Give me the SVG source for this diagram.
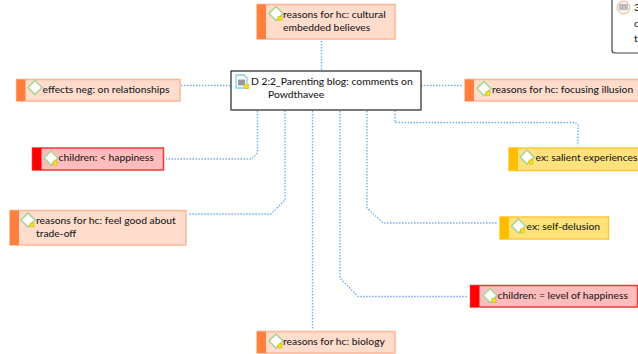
<svg xmlns="http://www.w3.org/2000/svg" width="638" height="354" viewBox="0 0 638 354">
<style>
text{font-family:"Lato","Open Sans","Liberation Sans",sans-serif;font-size:10.3px;fill:#1c1c1c;font-weight:500}
.o{fill:#ffdccc;stroke:#ffb594;stroke-width:1.5}
.ob{fill:#ff7f3f}
.r{fill:#ffbcbc;stroke:#f03a3a;stroke-width:1.5}
.rb{fill:#ff0000}
.y{fill:#ffe27a;stroke:#ffc83c;stroke-width:1.5}
.yb{fill:#ffbf00}
.c{fill:none;stroke:#74acf4;stroke-width:1.4;stroke-dasharray:1.5 1.5}
.d{fill:#fff;stroke:#a8d596;stroke-width:1.6}
.q{fill:#f5e11c;stroke:#c9b400;stroke-width:.5}
</style>
<defs>
<g id="code"><path class="d" d="M8 -.5L15 6.500L8 13.500L1 6.500Z"/><rect class="q" x="10" y="9.500" width="4" height="4"/></g>
<g id="code0"><path class="d" d="M8 -.5L15 6.500L8 13.500L1 6.500Z"/></g>
</defs>
<g id="connectors">
<path class="c" d="M321.500 41V70"/>
<path class="c" d="M181 85.500H230"/>
<path class="c" d="M421 85.500H463"/>
<path class="c" d="M257.500 111V153L251.500 159H166"/>
<path class="c" d="M285 111V200L271 214H188"/>
<path class="c" d="M312.500 111V330"/>
<path class="c" d="M340 111V278L358 296.500H468"/>
<path class="c" d="M367 111V208L383 223H497"/>
<path class="c" d="M395 111V122.500H575L578 125V146"/>
</g>
<g id="node-top"><rect class="o" x="257" y="4.500" width="138" height="34.500"/><rect class="ob" x="257" y="4.500" width="9" height="34.500"/><use href="#code" x="268" y="7"/><text x="283" y="18">reasons for hc: cultural</text><text x="283" y="31">embedded believes</text></g>
<g id="node-center"><rect x="231" y="71" width="190" height="39" fill="#fff" stroke="#222" stroke-width="1.2"/><path d="M231 110H421" stroke="#777" stroke-width="1.500"/><path d="M236 75h8l3 3v10h-11z" fill="#fff" stroke="#7fd0f0" stroke-width="1.300"/><rect x="238" y="79.500" width="7" height="6" fill="#999"/><rect class="q" x="244" y="84.500" width="5" height="4"/><text x="251" y="85">D 2:2_Parenting blog: comments on</text><text x="268" y="98">Powdthavee</text></g>
<g id="node-note"><path d="M638 -2H612V50Q612 53 615 53H638" fill="#fff" stroke="#444" stroke-width="1.200"/><circle cx="623.500" cy="7.500" r="6.500" fill="#f2f2f2" stroke="#f0b787"/><path d="M619 5h9M619 7h9M619 9h9" stroke="#888" stroke-width="1.200"/><text x="634" y="11">3</text><text x="634" y="27">c</text><text x="634" y="42">t</text></g>
<g id="node-focus"><rect class="o" x="465" y="79.500" width="175" height="21.500"/><rect class="ob" x="465" y="79.500" width="9" height="21.500"/><use href="#code" x="476" y="82"/><text x="492" y="93">reasons for hc: focusing illusion</text></g>
<g id="node-effects"><rect class="o" x="16.500" y="79.500" width="163.500" height="21.500"/><rect class="ob" x="16.500" y="79.500" width="9" height="21.500"/><use href="#code0" x="27" y="81"/><text x="42.500" y="93">effects neg: on relationships</text></g>
<g id="node-less"><rect class="r" x="32.500" y="148" width="131" height="22"/><rect class="rb" x="32.500" y="148" width="9" height="22"/><use href="#code" x="43" y="151.500"/><text x="58.500" y="161">children: &lt; happiness</text></g>
<g id="node-salient"><rect class="y" x="509" y="148" width="132" height="22.500"/><rect class="yb" x="509" y="148" width="9" height="22.500"/><use href="#code" x="519" y="150.500"/><text x="535.500" y="161">ex: salient experiences</text></g>
<g id="node-feelgood"><rect class="o" x="10" y="210.500" width="176" height="34.500"/><rect class="ob" x="10" y="210.500" width="9" height="34.500"/><use href="#code" x="20" y="213.500"/><text x="36" y="224">reasons for hc: feel good about</text><text x="36" y="237">trade-off</text></g>
<g id="node-delusion"><rect class="y" x="500" y="217" width="108.500" height="22"/><rect class="yb" x="500" y="217" width="9" height="22"/><use href="#code" x="510.500" y="219.500"/><text x="526.500" y="230">ex: self-delusion</text></g>
<g id="node-equal"><rect class="r" x="470.500" y="285.500" width="167" height="21.500"/><rect class="rb" x="470.500" y="285.500" width="9" height="21.500"/><use href="#code" x="482" y="289"/><text x="497.500" y="299">children: = level of happiness</text></g>
<g id="node-biology"><rect class="o" x="257" y="331.500" width="138" height="21.500"/><rect class="ob" x="257" y="331.500" width="9" height="21.500"/><use href="#code" x="268" y="334.500"/><text x="283" y="345">reasons for hc: biology</text></g>
</svg>
